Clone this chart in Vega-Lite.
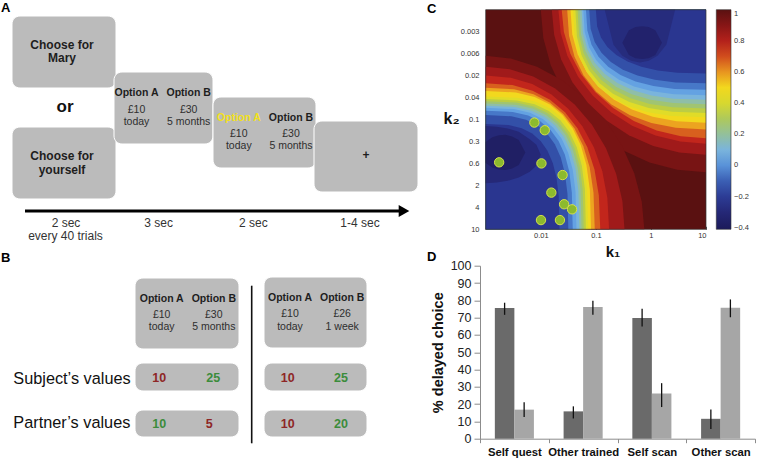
{
"$schema": "https://vega.github.io/schema/vega-lite/v6.json",
"background": "white",
"padding": 0,
"bounds": "flush",
"spacing": 40,
"datasets": {
"boxes": [
{"x":1.2,"x2":11.6,"y":1.6,"y2":8.8},{"x":1.2,"x2":11.6,"y":12.7,"y2":19.9},
{"x":11.4,"x2":21.3,"y":7.2,"y2":14.4},{"x":21.3,"x2":31.6,"y":9.7,"y2":16.8},
{"x":31.4,"x2":41.8,"y":12.1,"y2":19.2},
{"x":13.5,"x2":23.9,"y":27.8,"y2":34.9},{"x":26.4,"x2":36.7,"y":27.7,"y2":34.8},
{"x":13.5,"x2":23.9,"y":36.3,"y2":39.1},{"x":26.4,"x2":36.7,"y":36.3,"y2":39.1},
{"x":13.5,"x2":23.9,"y":41.0,"y2":43.7},{"x":26.4,"x2":36.7,"y":41.0,"y2":43.7}
],
"rules": [
{"kind":"timeline","x":2.5,"x2":40.4,"y":21.1,"y2":21.1},
{"kind":"divider","x":25.17,"x2":25.17,"y":28.57,"y2":44.33}
],
"labels": [
{"role":"letter","text":"A","x":0.1,"y":1.2},
{"role":"letter","text":"B","x":0.1,"y":26.2},
{"role":"letter","text":"C","x":42.7,"y":1.27},
{"role":"letter","text":"D","x":42.7,"y":26.07},
{"role":"head","text":"Choose for","x":6.2,"y":4.87},
{"role":"head","text":"Mary","x":6.2,"y":6.23},
{"role":"head","text":"Choose for","x":6.2,"y":16.0},
{"role":"head","text":"yourself","x":6.2,"y":17.4},
{"role":"or","text":"or","x":6.5,"y":11.15},
{"role":"opt","tone":"plain","text":"Option A","x":13.65,"y":9.57},
{"role":"opt","tone":"plain","text":"Option B","x":18.87,"y":9.57},
{"role":"val","text":"£10","x":13.65,"y":11.3},
{"role":"val","text":"today","x":13.65,"y":12.47},
{"role":"val","text":"£30","x":18.87,"y":11.3},
{"role":"val","text":"5 months","x":18.87,"y":12.47},
{"role":"opt","tone":"chosen","text":"Option A","x":23.88,"y":12.05},
{"role":"opt","tone":"plain","text":"Option B","x":29.1,"y":12.05},
{"role":"val","text":"£10","x":23.88,"y":13.7},
{"role":"val","text":"today","x":23.88,"y":14.93},
{"role":"val","text":"£30","x":29.1,"y":13.7},
{"role":"val","text":"5 months","x":29.1,"y":14.93},
{"role":"plus","text":"+","x":36.6,"y":15.9},
{"role":"time","text":"2 sec","x":6.6,"y":22.73},
{"role":"time","text":"3 sec","x":15.87,"y":22.73},
{"role":"time","text":"2 sec","x":25.33,"y":22.73},
{"role":"time","text":"1-4 sec","x":36.0,"y":22.73},
{"role":"time","text":"every 40 trials","x":6.55,"y":24.03},
{"role":"opt","tone":"plain","text":"Option A","x":16.17,"y":30.17},
{"role":"opt","tone":"plain","text":"Option B","x":21.38,"y":30.17},
{"role":"val","text":"£10","x":16.17,"y":31.8},
{"role":"val","text":"today","x":16.17,"y":33.0},
{"role":"val","text":"£30","x":21.38,"y":31.8},
{"role":"val","text":"5 months","x":21.38,"y":33.0},
{"role":"opt","tone":"plain","text":"Option A","x":29.0,"y":30.1},
{"role":"opt","tone":"plain","text":"Option B","x":34.22,"y":30.1},
{"role":"val","text":"£10","x":29.0,"y":31.73},
{"role":"val","text":"today","x":29.0,"y":32.97},
{"role":"val","text":"£26","x":34.22,"y":31.73},
{"role":"val","text":"1 week","x":34.22,"y":32.97},
{"role":"row","text":"Subject’s values","x":1.33,"y":38.4},
{"role":"row","text":"Partner’s values","x":1.33,"y":42.77},
{"role":"num","tone":"worse","text":"10","x":15.93,"y":38.17},
{"role":"num","tone":"better","text":"25","x":21.33,"y":38.17},
{"role":"num","tone":"worse","text":"10","x":28.77,"y":38.17},
{"role":"num","tone":"better","text":"25","x":34.1,"y":38.17},
{"role":"num","tone":"better","text":"10","x":15.93,"y":42.83},
{"role":"num","tone":"worse","text":"5","x":20.93,"y":42.83},
{"role":"num","tone":"worse","text":"10","x":28.77,"y":42.83},
{"role":"num","tone":"better","text":"20","x":34.1,"y":42.83}
],
"contours": [
{"g":"a01","lev":0.93,"lk1":-2,"y0":0,"y1":0},{"g":"a01","lev":0.93,"lk1":-1.954,"y0":0,"y1":1.285},{"g":"a01","lev":0.93,"lk1":-1.819,"y0":0,"y1":2.531},{"g":"a01","lev":0.93,"lk1":-1.598,"y0":0,"y1":3.7},{"g":"a01","lev":0.93,"lk1":-1.298,"y0":0,"y1":4.757},{"g":"a01","lev":0.93,"lk1":-0.928,"y0":0,"y1":5.668},{"g":"a01","lev":0.93,"lk1":-0.5,"y0":0,"y1":6.408},{"g":"a01","lev":0.93,"lk1":-0.026,"y0":0,"y1":6.954},{"g":"a01","lev":0.93,"lk1":0.479,"y0":0,"y1":7.288},{"g":"a01","lev":0.93,"lk1":1,"y0":0,"y1":7.4},
{"g":"a02","lev":0.93,"lk1":-3,"y0":2.1,"y1":10},{"g":"a02","lev":0.93,"lk1":-2.544,"y0":2.226,"y1":10},{"g":"a02","lev":0.93,"lk1":-2.069,"y0":2.601,"y1":10},{"g":"a02","lev":0.93,"lk1":-1.612,"y0":3.21,"y1":10},{"g":"a02","lev":0.93,"lk1":-1.191,"y0":4.033,"y1":10},{"g":"a02","lev":0.93,"lk1":-0.825,"y0":5.038,"y1":10},{"g":"a02","lev":0.93,"lk1":-0.525,"y0":6.191,"y1":10},{"g":"a02","lev":0.93,"lk1":-0.303,"y0":7.446,"y1":10},{"g":"a02","lev":0.93,"lk1":-0.166,"y0":8.749,"y1":10},{"g":"a02","lev":0.93,"lk1":-0.12,"y0":10,"y1":10},
{"g":"a03","lev":0.85,"lk1":-1.8,"y0":0,"y1":0},{"g":"a03","lev":0.85,"lk1":-1.757,"y0":0,"y1":1.146},{"g":"a03","lev":0.85,"lk1":-1.631,"y0":0,"y1":2.257},{"g":"a03","lev":0.85,"lk1":-1.425,"y0":0,"y1":3.3},{"g":"a03","lev":0.85,"lk1":-1.145,"y0":0,"y1":4.242},{"g":"a03","lev":0.85,"lk1":-0.8,"y0":0,"y1":5.056},{"g":"a03","lev":0.85,"lk1":-0.4,"y0":0,"y1":5.716},{"g":"a03","lev":0.85,"lk1":0.042,"y0":0,"y1":6.202},{"g":"a03","lev":0.85,"lk1":0.514,"y0":0,"y1":6.5},{"g":"a03","lev":0.85,"lk1":1,"y0":0,"y1":6.6},
{"g":"a04","lev":0.85,"lk1":-3,"y0":2.6,"y1":10},{"g":"a04","lev":0.85,"lk1":-2.563,"y0":2.712,"y1":10},{"g":"a04","lev":0.85,"lk1":-2.138,"y0":3.046,"y1":10},{"g":"a04","lev":0.85,"lk1":-1.74,"y0":3.592,"y1":10},{"g":"a04","lev":0.85,"lk1":-1.38,"y0":4.332,"y1":10},{"g":"a04","lev":0.85,"lk1":-1.07,"y0":5.243,"y1":10},{"g":"a04","lev":0.85,"lk1":-0.818,"y0":6.3,"y1":10},{"g":"a04","lev":0.85,"lk1":-0.632,"y0":7.469,"y1":10},{"g":"a04","lev":0.85,"lk1":-0.518,"y0":8.715,"y1":10},{"g":"a04","lev":0.85,"lk1":-0.48,"y0":10,"y1":10},
{"g":"a05","lev":0.76,"lk1":-1.68,"y0":0,"y1":0},{"g":"a05","lev":0.76,"lk1":-1.639,"y0":0,"y1":1.059},{"g":"a05","lev":0.76,"lk1":-1.518,"y0":0,"y1":2.086},{"g":"a05","lev":0.76,"lk1":-1.321,"y0":0,"y1":3.05},{"g":"a05","lev":0.76,"lk1":-1.053,"y0":0,"y1":3.921},{"g":"a05","lev":0.76,"lk1":-0.723,"y0":0,"y1":4.673},{"g":"a05","lev":0.76,"lk1":-0.34,"y0":0,"y1":5.283},{"g":"a05","lev":0.76,"lk1":0.083,"y0":0,"y1":5.732},{"g":"a05","lev":0.76,"lk1":0.535,"y0":0,"y1":6.007},{"g":"a05","lev":0.76,"lk1":1,"y0":0,"y1":6.1},
{"g":"a06","lev":0.76,"lk1":-3,"y0":3.0,"y1":10},{"g":"a06","lev":0.76,"lk1":-2.544,"y0":3.097,"y1":10},{"g":"a06","lev":0.76,"lk1":-2.155,"y0":3.385,"y1":10},{"g":"a06","lev":0.76,"lk1":-1.807,"y0":3.857,"y1":10},{"g":"a06","lev":0.76,"lk1":-1.501,"y0":4.506,"y1":10},{"g":"a06","lev":0.76,"lk1":-1.242,"y0":5.316,"y1":10},{"g":"a06","lev":0.76,"lk1":-1.034,"y0":6.272,"y1":10},{"g":"a06","lev":0.76,"lk1":-0.883,"y0":7.36,"y1":10},{"g":"a06","lev":0.76,"lk1":-0.791,"y0":8.575,"y1":10},{"g":"a06","lev":0.76,"lk1":-0.76,"y0":10,"y1":10},
{"g":"a07","lev":0.67,"lk1":-1.62,"y0":0,"y1":0},{"g":"a07","lev":0.67,"lk1":-1.58,"y0":0,"y1":1.016},{"g":"a07","lev":0.67,"lk1":-1.462,"y0":0,"y1":2.001},{"g":"a07","lev":0.67,"lk1":-1.269,"y0":0,"y1":2.925},{"g":"a07","lev":0.67,"lk1":-1.007,"y0":0,"y1":3.76},{"g":"a07","lev":0.67,"lk1":-0.684,"y0":0,"y1":4.481},{"g":"a07","lev":0.67,"lk1":-0.31,"y0":0,"y1":5.066},{"g":"a07","lev":0.67,"lk1":0.104,"y0":0,"y1":5.497},{"g":"a07","lev":0.67,"lk1":0.545,"y0":0,"y1":5.761},{"g":"a07","lev":0.67,"lk1":1,"y0":0,"y1":5.85},
{"g":"a08","lev":0.67,"lk1":-3,"y0":3.35,"y1":10},{"g":"a08","lev":0.67,"lk1":-2.516,"y0":3.434,"y1":10},{"g":"a08","lev":0.67,"lk1":-2.149,"y0":3.686,"y1":10},{"g":"a08","lev":0.67,"lk1":-1.832,"y0":4.101,"y1":10},{"g":"a08","lev":0.67,"lk1":-1.561,"y0":4.675,"y1":10},{"g":"a08","lev":0.67,"lk1":-1.334,"y0":5.398,"y1":10},{"g":"a08","lev":0.67,"lk1":-1.155,"y0":6.267,"y1":10},{"g":"a08","lev":0.67,"lk1":-1.025,"y0":7.279,"y1":10},{"g":"a08","lev":0.67,"lk1":-0.946,"y0":8.454,"y1":10},{"g":"a08","lev":0.67,"lk1":-0.92,"y0":10,"y1":10},
{"g":"a09","lev":0.58,"lk1":-1.52,"y0":0,"y1":0},{"g":"a09","lev":0.58,"lk1":-1.487,"y0":0,"y1":1.188},{"g":"a09","lev":0.58,"lk1":-1.387,"y0":0,"y1":2.143},{"g":"a09","lev":0.58,"lk1":-1.224,"y0":0,"y1":2.982},{"g":"a09","lev":0.58,"lk1":-0.998,"y0":0,"y1":3.71},{"g":"a09","lev":0.58,"lk1":-0.716,"y0":0,"y1":4.322},{"g":"a09","lev":0.58,"lk1":-0.379,"y0":0,"y1":4.809},{"g":"a09","lev":0.58,"lk1":0.009,"y0":0,"y1":5.163},{"g":"a09","lev":0.58,"lk1":0.451,"y0":0,"y1":5.378},{"g":"a09","lev":0.58,"lk1":1,"y0":0,"y1":5.45},
{"g":"a10","lev":0.58,"lk1":-3,"y0":3.55,"y1":10},{"g":"a10","lev":0.58,"lk1":-2.485,"y0":3.625,"y1":10},{"g":"a10","lev":0.58,"lk1":-2.132,"y0":3.851,"y1":10},{"g":"a10","lev":0.58,"lk1":-1.838,"y0":4.225,"y1":10},{"g":"a10","lev":0.58,"lk1":-1.59,"y0":4.746,"y1":10},{"g":"a10","lev":0.58,"lk1":-1.387,"y0":5.408,"y1":10},{"g":"a10","lev":0.58,"lk1":-1.227,"y0":6.215,"y1":10},{"g":"a10","lev":0.58,"lk1":-1.112,"y0":7.174,"y1":10},{"g":"a10","lev":0.58,"lk1":-1.043,"y0":8.322,"y1":10},{"g":"a10","lev":0.58,"lk1":-1.02,"y0":10,"y1":10},
{"g":"a11","lev":0.5,"lk1":-1.46,"y0":0,"y1":0},{"g":"a11","lev":0.5,"lk1":-1.428,"y0":0,"y1":1.123},{"g":"a11","lev":0.5,"lk1":-1.33,"y0":0,"y1":2.025},{"g":"a11","lev":0.5,"lk1":-1.171,"y0":0,"y1":2.818},{"g":"a11","lev":0.5,"lk1":-0.951,"y0":0,"y1":3.506},{"g":"a11","lev":0.5,"lk1":-0.675,"y0":0,"y1":4.084},{"g":"a11","lev":0.5,"lk1":-0.346,"y0":0,"y1":4.544},{"g":"a11","lev":0.5,"lk1":0.033,"y0":0,"y1":4.879},{"g":"a11","lev":0.5,"lk1":0.464,"y0":0,"y1":5.082},{"g":"a11","lev":0.5,"lk1":1,"y0":0,"y1":5.15},
{"g":"a12","lev":0.5,"lk1":-3,"y0":3.7,"y1":10},{"g":"a12","lev":0.5,"lk1":-2.452,"y0":3.769,"y1":10},{"g":"a12","lev":0.5,"lk1":-2.111,"y0":3.973,"y1":10},{"g":"a12","lev":0.5,"lk1":-1.834,"y0":4.315,"y1":10},{"g":"a12","lev":0.5,"lk1":-1.605,"y0":4.792,"y1":10},{"g":"a12","lev":0.5,"lk1":-1.419,"y0":5.405,"y1":10},{"g":"a12","lev":0.5,"lk1":-1.275,"y0":6.16,"y1":10},{"g":"a12","lev":0.5,"lk1":-1.171,"y0":7.072,"y1":10},{"g":"a12","lev":0.5,"lk1":-1.109,"y0":8.196,"y1":10},{"g":"a12","lev":0.5,"lk1":-1.088,"y0":10,"y1":10},
{"g":"a13","lev":0.42,"lk1":-1.412,"y0":0,"y1":0},{"g":"a13","lev":0.42,"lk1":-1.384,"y0":0,"y1":1.274},{"g":"a13","lev":0.42,"lk1":-1.299,"y0":0,"y1":2.147},{"g":"a13","lev":0.42,"lk1":-1.159,"y0":0,"y1":2.875},{"g":"a13","lev":0.42,"lk1":-0.965,"y0":0,"y1":3.488},{"g":"a13","lev":0.42,"lk1":-0.717,"y0":0,"y1":3.992},{"g":"a13","lev":0.42,"lk1":-0.415,"y0":0,"y1":4.387},{"g":"a13","lev":0.42,"lk1":-0.057,"y0":0,"y1":4.671},{"g":"a13","lev":0.42,"lk1":0.373,"y0":0,"y1":4.843},{"g":"a13","lev":0.42,"lk1":1,"y0":0,"y1":4.9},
{"g":"a14","lev":0.42,"lk1":-3,"y0":3.95,"y1":10},{"g":"a14","lev":0.42,"lk1":-2.422,"y0":4.012,"y1":10},{"g":"a14","lev":0.42,"lk1":-2.091,"y0":4.196,"y1":10},{"g":"a14","lev":0.42,"lk1":-1.829,"y0":4.503,"y1":10},{"g":"a14","lev":0.42,"lk1":-1.615,"y0":4.936,"y1":10},{"g":"a14","lev":0.42,"lk1":-1.443,"y0":5.495,"y1":10},{"g":"a14","lev":0.42,"lk1":-1.31,"y0":6.19,"y1":10},{"g":"a14","lev":0.42,"lk1":-1.216,"y0":7.042,"y1":10},{"g":"a14","lev":0.42,"lk1":-1.159,"y0":8.118,"y1":10},{"g":"a14","lev":0.42,"lk1":-1.14,"y0":10,"y1":10},
{"g":"a15","lev":0.34,"lk1":-1.372,"y0":0,"y1":0},{"g":"a15","lev":0.34,"lk1":-1.344,"y0":0,"y1":1.222},{"g":"a15","lev":0.34,"lk1":-1.261,"y0":0,"y1":2.06},{"g":"a15","lev":0.34,"lk1":-1.124,"y0":0,"y1":2.758},{"g":"a15","lev":0.34,"lk1":-0.932,"y0":0,"y1":3.346},{"g":"a15","lev":0.34,"lk1":-0.689,"y0":0,"y1":3.829},{"g":"a15","lev":0.34,"lk1":-0.392,"y0":0,"y1":4.208},{"g":"a15","lev":0.34,"lk1":-0.039,"y0":0,"y1":4.481},{"g":"a15","lev":0.34,"lk1":0.383,"y0":0,"y1":4.645},{"g":"a15","lev":0.34,"lk1":1,"y0":0,"y1":4.7},
{"g":"a16","lev":0.34,"lk1":-3,"y0":4.07,"y1":10},{"g":"a16","lev":0.34,"lk1":-2.434,"y0":4.13,"y1":10},{"g":"a16","lev":0.34,"lk1":-2.11,"y0":4.311,"y1":10},{"g":"a16","lev":0.34,"lk1":-1.854,"y0":4.612,"y1":10},{"g":"a16","lev":0.34,"lk1":-1.645,"y0":5.036,"y1":10},{"g":"a16","lev":0.34,"lk1":-1.476,"y0":5.584,"y1":10},{"g":"a16","lev":0.34,"lk1":-1.346,"y0":6.265,"y1":10},{"g":"a16","lev":0.34,"lk1":-1.254,"y0":7.101,"y1":10},{"g":"a16","lev":0.34,"lk1":-1.199,"y0":8.156,"y1":10},{"g":"a16","lev":0.34,"lk1":-1.18,"y0":10,"y1":10},
{"g":"a17","lev":0.26,"lk1":-1.332,"y0":0,"y1":0},{"g":"a17","lev":0.26,"lk1":-1.305,"y0":0,"y1":1.17},{"g":"a17","lev":0.26,"lk1":-1.223,"y0":0,"y1":1.972},{"g":"a17","lev":0.26,"lk1":-1.088,"y0":0,"y1":2.641},{"g":"a17","lev":0.26,"lk1":-0.9,"y0":0,"y1":3.204},{"g":"a17","lev":0.26,"lk1":-0.66,"y0":0,"y1":3.666},{"g":"a17","lev":0.26,"lk1":-0.368,"y0":0,"y1":4.029},{"g":"a17","lev":0.26,"lk1":-0.022,"y0":0,"y1":4.29},{"g":"a17","lev":0.26,"lk1":0.393,"y0":0,"y1":4.447},{"g":"a17","lev":0.26,"lk1":1,"y0":0,"y1":4.5},
{"g":"a18","lev":0.26,"lk1":-3,"y0":4.17,"y1":10},{"g":"a18","lev":0.26,"lk1":-2.446,"y0":4.229,"y1":10},{"g":"a18","lev":0.26,"lk1":-2.13,"y0":4.407,"y1":10},{"g":"a18","lev":0.26,"lk1":-1.879,"y0":4.703,"y1":10},{"g":"a18","lev":0.26,"lk1":-1.674,"y0":5.12,"y1":10},{"g":"a18","lev":0.26,"lk1":-1.51,"y0":5.658,"y1":10},{"g":"a18","lev":0.26,"lk1":-1.383,"y0":6.328,"y1":10},{"g":"a18","lev":0.26,"lk1":-1.292,"y0":7.15,"y1":10},{"g":"a18","lev":0.26,"lk1":-1.238,"y0":8.187,"y1":10},{"g":"a18","lev":0.26,"lk1":-1.22,"y0":10,"y1":10},
{"g":"a19","lev":0.18,"lk1":-1.296,"y0":0,"y1":0},{"g":"a19","lev":0.18,"lk1":-1.269,"y0":0,"y1":1.118},{"g":"a19","lev":0.18,"lk1":-1.189,"y0":0,"y1":1.884},{"g":"a19","lev":0.18,"lk1":-1.056,"y0":0,"y1":2.523},{"g":"a19","lev":0.18,"lk1":-0.87,"y0":0,"y1":3.061},{"g":"a19","lev":0.18,"lk1":-0.635,"y0":0,"y1":3.503},{"g":"a19","lev":0.18,"lk1":-0.347,"y0":0,"y1":3.85},{"g":"a19","lev":0.18,"lk1":-0.006,"y0":0,"y1":4.099},{"g":"a19","lev":0.18,"lk1":0.403,"y0":0,"y1":4.25},{"g":"a19","lev":0.18,"lk1":1,"y0":0,"y1":4.3},
{"g":"a20","lev":0.18,"lk1":-3,"y0":4.27,"y1":10},{"g":"a20","lev":0.18,"lk1":-2.459,"y0":4.328,"y1":10},{"g":"a20","lev":0.18,"lk1":-2.149,"y0":4.503,"y1":10},{"g":"a20","lev":0.18,"lk1":-1.904,"y0":4.794,"y1":10},{"g":"a20","lev":0.18,"lk1":-1.704,"y0":5.203,"y1":10},{"g":"a20","lev":0.18,"lk1":-1.543,"y0":5.733,"y1":10},{"g":"a20","lev":0.18,"lk1":-1.419,"y0":6.391,"y1":10},{"g":"a20","lev":0.18,"lk1":-1.331,"y0":7.199,"y1":10},{"g":"a20","lev":0.18,"lk1":-1.278,"y0":8.218,"y1":10},{"g":"a20","lev":0.18,"lk1":-1.26,"y0":10,"y1":10},
{"g":"a21","lev":0.1,"lk1":-1.26,"y0":0,"y1":0},{"g":"a21","lev":0.1,"lk1":-1.234,"y0":0,"y1":1.066},{"g":"a21","lev":0.1,"lk1":-1.154,"y0":0,"y1":1.797},{"g":"a21","lev":0.1,"lk1":-1.023,"y0":0,"y1":2.406},{"g":"a21","lev":0.1,"lk1":-0.841,"y0":0,"y1":2.919},{"g":"a21","lev":0.1,"lk1":-0.609,"y0":0,"y1":3.34},{"g":"a21","lev":0.1,"lk1":-0.326,"y0":0,"y1":3.671},{"g":"a21","lev":0.1,"lk1":0.01,"y0":0,"y1":3.909},{"g":"a21","lev":0.1,"lk1":0.412,"y0":0,"y1":4.052},{"g":"a21","lev":0.1,"lk1":1,"y0":0,"y1":4.1},
{"g":"a22","lev":0.1,"lk1":-3,"y0":4.37,"y1":10},{"g":"a22","lev":0.1,"lk1":-2.471,"y0":4.427,"y1":10},{"g":"a22","lev":0.1,"lk1":-2.169,"y0":4.599,"y1":10},{"g":"a22","lev":0.1,"lk1":-1.929,"y0":4.885,"y1":10},{"g":"a22","lev":0.1,"lk1":-1.734,"y0":5.287,"y1":10},{"g":"a22","lev":0.1,"lk1":-1.577,"y0":5.807,"y1":10},{"g":"a22","lev":0.1,"lk1":-1.455,"y0":6.454,"y1":10},{"g":"a22","lev":0.1,"lk1":-1.369,"y0":7.247,"y1":10},{"g":"a22","lev":0.1,"lk1":-1.317,"y0":8.249,"y1":10},{"g":"a22","lev":0.1,"lk1":-1.3,"y0":10,"y1":10},
{"g":"a23","lev":0.03,"lk1":-1.228,"y0":0,"y1":0},{"g":"a23","lev":0.03,"lk1":-1.202,"y0":0,"y1":1.014},{"g":"a23","lev":0.03,"lk1":-1.124,"y0":0,"y1":1.709},{"g":"a23","lev":0.03,"lk1":-0.995,"y0":0,"y1":2.289},{"g":"a23","lev":0.03,"lk1":-0.815,"y0":0,"y1":2.776},{"g":"a23","lev":0.03,"lk1":-0.586,"y0":0,"y1":3.177},{"g":"a23","lev":0.03,"lk1":-0.307,"y0":0,"y1":3.492},{"g":"a23","lev":0.03,"lk1":0.024,"y0":0,"y1":3.718},{"g":"a23","lev":0.03,"lk1":0.42,"y0":0,"y1":3.854},{"g":"a23","lev":0.03,"lk1":1,"y0":0,"y1":3.9},
{"g":"a24","lev":0.03,"lk1":-3,"y0":4.47,"y1":10},{"g":"a24","lev":0.03,"lk1":-2.487,"y0":4.526,"y1":10},{"g":"a24","lev":0.03,"lk1":-2.194,"y0":4.695,"y1":10},{"g":"a24","lev":0.03,"lk1":-1.962,"y0":4.975,"y1":10},{"g":"a24","lev":0.03,"lk1":-1.773,"y0":5.371,"y1":10},{"g":"a24","lev":0.03,"lk1":-1.62,"y0":5.882,"y1":10},{"g":"a24","lev":0.03,"lk1":-1.503,"y0":6.517,"y1":10},{"g":"a24","lev":0.03,"lk1":-1.419,"y0":7.296,"y1":10},{"g":"a24","lev":0.03,"lk1":-1.369,"y0":8.28,"y1":10},{"g":"a24","lev":0.03,"lk1":-1.352,"y0":10,"y1":10},
{"g":"a25","lev":-0.05,"lk1":-1.18,"y0":0,"y1":0},{"g":"a25","lev":-0.05,"lk1":-1.154,"y0":0,"y1":0.949},{"g":"a25","lev":-0.05,"lk1":-1.078,"y0":0,"y1":1.599},{"g":"a25","lev":-0.05,"lk1":-0.952,"y0":0,"y1":2.142},{"g":"a25","lev":-0.05,"lk1":-0.776,"y0":0,"y1":2.598},{"g":"a25","lev":-0.05,"lk1":-0.552,"y0":0,"y1":2.973},{"g":"a25","lev":-0.05,"lk1":-0.279,"y0":0,"y1":3.268},{"g":"a25","lev":-0.05,"lk1":0.045,"y0":0,"y1":3.479},{"g":"a25","lev":-0.05,"lk1":0.433,"y0":0,"y1":3.607},{"g":"a25","lev":-0.05,"lk1":1,"y0":0,"y1":3.65},
{"g":"a26","lev":-0.05,"lk1":-3,"y0":4.6,"y1":10},{"g":"a26","lev":-0.05,"lk1":-2.509,"y0":4.655,"y1":10},{"g":"a26","lev":-0.05,"lk1":-2.228,"y0":4.819,"y1":10},{"g":"a26","lev":-0.05,"lk1":-2.005,"y0":5.094,"y1":10},{"g":"a26","lev":-0.05,"lk1":-1.823,"y0":5.48,"y1":10},{"g":"a26","lev":-0.05,"lk1":-1.677,"y0":5.979,"y1":10},{"g":"a26","lev":-0.05,"lk1":-1.564,"y0":6.599,"y1":10},{"g":"a26","lev":-0.05,"lk1":-1.484,"y0":7.36,"y1":10},{"g":"a26","lev":-0.05,"lk1":-1.436,"y0":8.321,"y1":10},{"g":"a26","lev":-0.05,"lk1":-1.42,"y0":10,"y1":10},
{"g":"a27","lev":-0.13,"lk1":-1.12,"y0":0,"y1":0},{"g":"a27","lev":-0.13,"lk1":-1.095,"y0":0,"y1":0.871},{"g":"a27","lev":-0.13,"lk1":-1.021,"y0":0,"y1":1.468},{"g":"a27","lev":-0.13,"lk1":-0.898,"y0":0,"y1":1.966},{"g":"a27","lev":-0.13,"lk1":-0.727,"y0":0,"y1":2.385},{"g":"a27","lev":-0.13,"lk1":-0.509,"y0":0,"y1":2.729},{"g":"a27","lev":-0.13,"lk1":-0.244,"y0":0,"y1":2.999},{"g":"a27","lev":-0.13,"lk1":0.071,"y0":0,"y1":3.194},{"g":"a27","lev":-0.13,"lk1":0.449,"y0":0,"y1":3.311},{"g":"a27","lev":-0.13,"lk1":1,"y0":0,"y1":3.35},
{"g":"a28","lev":-0.13,"lk1":-3,"y0":4.8,"y1":10},{"g":"a28","lev":-0.13,"lk1":-2.533,"y0":4.853,"y1":10},{"g":"a28","lev":-0.13,"lk1":-2.267,"y0":5.011,"y1":10},{"g":"a28","lev":-0.13,"lk1":-2.055,"y0":5.275,"y1":10},{"g":"a28","lev":-0.13,"lk1":-1.883,"y0":5.647,"y1":10},{"g":"a28","lev":-0.13,"lk1":-1.744,"y0":6.128,"y1":10},{"g":"a28","lev":-0.13,"lk1":-1.637,"y0":6.725,"y1":10},{"g":"a28","lev":-0.13,"lk1":-1.561,"y0":7.458,"y1":10},{"g":"a28","lev":-0.13,"lk1":-1.515,"y0":8.383,"y1":10},{"g":"a28","lev":-0.13,"lk1":-1.5,"y0":10,"y1":10},
{"g":"a29","lev":-0.22,"lk1":-1,"y0":0,"y1":0},{"g":"a29","lev":-0.22,"lk1":-0.977,"y0":0,"y1":0.754},{"g":"a29","lev":-0.22,"lk1":-0.907,"y0":0,"y1":1.271},{"g":"a29","lev":-0.22,"lk1":-0.791,"y0":0,"y1":1.702},{"g":"a29","lev":-0.22,"lk1":-0.629,"y0":0,"y1":2.065},{"g":"a29","lev":-0.22,"lk1":-0.424,"y0":0,"y1":2.362},{"g":"a29","lev":-0.22,"lk1":-0.174,"y0":0,"y1":2.596},{"g":"a29","lev":-0.22,"lk1":0.124,"y0":0,"y1":2.765},{"g":"a29","lev":-0.22,"lk1":0.48,"y0":0,"y1":2.866},{"g":"a29","lev":-0.22,"lk1":1,"y0":0,"y1":2.9},
{"g":"a30","lev":-0.22,"lk1":-3,"y0":5.2,"y1":10},{"g":"a30","lev":-0.22,"lk1":-2.583,"y0":5.249,"y1":10},{"g":"a30","lev":-0.22,"lk1":-2.345,"y0":5.395,"y1":10},{"g":"a30","lev":-0.22,"lk1":-2.156,"y0":5.639,"y1":10},{"g":"a30","lev":-0.22,"lk1":-2.002,"y0":5.982,"y1":10},{"g":"a30","lev":-0.22,"lk1":-1.878,"y0":6.425,"y1":10},{"g":"a30","lev":-0.22,"lk1":-1.782,"y0":6.977,"y1":10},{"g":"a30","lev":-0.22,"lk1":-1.714,"y0":7.653,"y1":10},{"g":"a30","lev":-0.22,"lk1":-1.674,"y0":8.507,"y1":10},{"g":"a30","lev":-0.22,"lk1":-1.66,"y0":10,"y1":10},
{"g":"a31","lev":-0.28,"lk1":-0.84,"y0":0,"y1":0},{"g":"a31","lev":-0.28,"lk1":-0.68,"y0":0,"y1":1.6},{"g":"a31","lev":-0.28,"lk1":-0.52,"y0":0,"y1":2.1},{"g":"a31","lev":-0.28,"lk1":-0.36,"y0":0,"y1":2.33},{"g":"a31","lev":-0.28,"lk1":-0.2,"y0":0,"y1":2.4},{"g":"a31","lev":-0.28,"lk1":-0.04,"y0":0,"y1":2.33},{"g":"a31","lev":-0.28,"lk1":0.12,"y0":0,"y1":2.1},{"g":"a31","lev":-0.28,"lk1":0.28,"y0":0,"y1":1.6},{"g":"a31","lev":-0.28,"lk1":0.44,"y0":0,"y1":0},
{"g":"a32","lev":-0.3,"lk1":-3,"y0":5.3,"y1":7.9},{"g":"a32","lev":-0.3,"lk1":-2.8,"y0":5.33,"y1":7.87},{"g":"a32","lev":-0.3,"lk1":-2.6,"y0":5.41,"y1":7.79},{"g":"a32","lev":-0.3,"lk1":-2.4,"y0":5.56,"y1":7.64},{"g":"a32","lev":-0.3,"lk1":-2.2,"y0":5.9,"y1":7.38},{"g":"a32","lev":-0.3,"lk1":-2.08,"y0":6.15,"y1":7.11},{"g":"a32","lev":-0.3,"lk1":-2.0,"y0":6.6,"y1":6.6},
{"g":"a33","lev":-0.34,"lk1":-0.52,"y0":1.5,"y1":1.5},{"g":"a33","lev":-0.34,"lk1":-0.4,"y0":0.94,"y1":2.06},{"g":"a33","lev":-0.34,"lk1":-0.28,"y0":0.79,"y1":2.21},{"g":"a33","lev":-0.34,"lk1":-0.16,"y0":0.75,"y1":2.25},{"g":"a33","lev":-0.34,"lk1":-0.04,"y0":0.79,"y1":2.21},{"g":"a33","lev":-0.34,"lk1":0.08,"y0":0.94,"y1":2.06},{"g":"a33","lev":-0.34,"lk1":0.2,"y0":1.5,"y1":1.5},
{"g":"a34","lev":-0.37,"lk1":-3,"y0":6.02,"y1":6.98},{"g":"a34","lev":-0.37,"lk1":-2.88,"y0":5.81,"y1":7.19},{"g":"a34","lev":-0.37,"lk1":-2.76,"y0":5.72,"y1":7.28},{"g":"a34","lev":-0.37,"lk1":-2.64,"y0":5.7,"y1":7.3},{"g":"a34","lev":-0.37,"lk1":-2.52,"y0":5.77,"y1":7.23},{"g":"a34","lev":-0.37,"lk1":-2.4,"y0":5.93,"y1":7.07},{"g":"a34","lev":-0.37,"lk1":-2.28,"y0":6.5,"y1":6.5}
],
"subjects": [
{"lk1":-2.116,"k2i":5.14},{"lk1":-1.928,"k2i":5.49},{"lk1":-2.756,"k2i":6.95},{"lk1":-1.988,"k2i":7.0},{"lk1":-1.604,"k2i":7.53},
{"lk1":-1.808,"k2i":8.33},{"lk1":-1.576,"k2i":8.86},{"lk1":-1.432,"k2i":9.09},{"lk1":-1.996,"k2i":9.58},{"lk1":-1.652,"k2i":9.58}
],
"bars": [
{"cond":"Self quest","set":"Condition 1","pct":75.6,"lo":71.6,"hi":78.6},
{"cond":"Self quest","set":"Condition 2","pct":16.8,"lo":12.5,"hi":21.0},
{"cond":"Other trained","set":"Condition 1","pct":15.8,"lo":11.7,"hi":18.7},
{"cond":"Other trained","set":"Condition 2","pct":76.1,"lo":71.6,"hi":79.8},
{"cond":"Self scan","set":"Condition 1","pct":69.8,"lo":64.8,"hi":75.1},
{"cond":"Self scan","set":"Condition 2","pct":26.1,"lo":18.3,"hi":32.1},
{"cond":"Other scan","set":"Condition 1","pct":11.5,"lo":5.6,"hi":16.9},
{"cond":"Other scan","set":"Condition 2","pct":75.7,"lo":70.2,"hi":80.5}
]
},
"hconcat": [
{
"width": 440, "height": 461,
"layer": [
{"data": {"name": "boxes"}, "mark": {"type": "rect", "cornerRadius": 8, "fill": "#bbbbbb", "stroke": "white", "strokeWidth": 1},
 "encoding": {"x": {"field": "x", "type": "quantitative", "scale": {"domain": [0, 44]}, "axis": null}, "x2": {"field": "x2"},
  "y": {"field": "y", "type": "quantitative", "scale": {"domain": [0, 46.1], "reverse": true}, "axis": null}, "y2": {"field": "y2"}}},
{"data": {"name": "rules"}, "transform": [{"filter": "datum.kind == 'timeline'"}], "mark": {"type": "rule", "color": "black", "strokeWidth": 3},
 "encoding": {"x": {"field": "x", "type": "quantitative", "scale": {"domain": [0, 44]}, "axis": null}, "x2": {"field": "x2"},
  "y": {"field": "y", "type": "quantitative", "scale": {"domain": [0, 46.1], "reverse": true}, "axis": null}, "y2": {"field": "y2"}}},
{"data": {"name": "rules"}, "transform": [{"filter": "datum.kind == 'divider'"}], "mark": {"type": "rule", "color": "#111", "strokeWidth": 1.6},
 "encoding": {"x": {"field": "x", "type": "quantitative", "scale": {"domain": [0, 44]}, "axis": null}, "x2": {"field": "x2"},
  "y": {"field": "y", "type": "quantitative", "scale": {"domain": [0, 46.1], "reverse": true}, "axis": null}, "y2": {"field": "y2"}}},
{"data": {"name": "rules"}, "transform": [{"filter": "datum.kind == 'timeline'"}], "mark": {"type": "point", "shape": "triangle-right", "filled": true, "color": "black", "size": 150, "opacity": 1},
 "encoding": {"x": {"field": "x2", "type": "quantitative", "scale": {"domain": [0, 44]}, "axis": null},
  "y": {"field": "y", "type": "quantitative", "scale": {"domain": [0, 46.1], "reverse": true}, "axis": null}}},
{"data": {"name": "labels"}, "transform": [{"filter": "datum.role == 'letter'"}], "mark": {"type": "text", "align": "left", "baseline": "alphabetic", "fontSize": 13, "fontWeight": "bold", "color": "#000"},
 "encoding": {"x": {"field": "x", "type": "quantitative", "scale": {"domain": [0, 44]}, "axis": null}, "y": {"field": "y", "type": "quantitative", "scale": {"domain": [0, 46.1], "reverse": true}, "axis": null}, "text": {"field": "text"}}},
{"data": {"name": "labels"}, "transform": [{"filter": "datum.role == 'head'"}], "mark": {"type": "text", "align": "center", "baseline": "alphabetic", "fontSize": 12, "fontWeight": "bold", "color": "#1e1e1e"},
 "encoding": {"x": {"field": "x", "type": "quantitative", "scale": {"domain": [0, 44]}, "axis": null}, "y": {"field": "y", "type": "quantitative", "scale": {"domain": [0, 46.1], "reverse": true}, "axis": null}, "text": {"field": "text"}}},
{"data": {"name": "labels"}, "transform": [{"filter": "datum.role == 'or'"}], "mark": {"type": "text", "align": "center", "baseline": "alphabetic", "fontSize": 17, "fontWeight": "bold", "color": "#111"},
 "encoding": {"x": {"field": "x", "type": "quantitative", "scale": {"domain": [0, 44]}, "axis": null}, "y": {"field": "y", "type": "quantitative", "scale": {"domain": [0, 46.1], "reverse": true}, "axis": null}, "text": {"field": "text"}}},
{"data": {"name": "labels"}, "transform": [{"filter": "datum.role == 'opt'"}], "mark": {"type": "text", "align": "center", "baseline": "alphabetic", "fontSize": 10.5, "fontWeight": "bold"},
 "encoding": {"x": {"field": "x", "type": "quantitative", "scale": {"domain": [0, 44]}, "axis": null}, "y": {"field": "y", "type": "quantitative", "scale": {"domain": [0, 46.1], "reverse": true}, "axis": null}, "text": {"field": "text"},
  "color": {"field": "tone", "type": "nominal", "scale": {"domain": ["plain", "chosen", "better", "worse"], "range": ["#1e1e1e", "#f2e01a", "#3b8c3b", "#8e2626"]}, "legend": null}}},
{"data": {"name": "labels"}, "transform": [{"filter": "datum.role == 'val'"}], "mark": {"type": "text", "align": "center", "baseline": "alphabetic", "fontSize": 10.5, "color": "#2e2e2e"},
 "encoding": {"x": {"field": "x", "type": "quantitative", "scale": {"domain": [0, 44]}, "axis": null}, "y": {"field": "y", "type": "quantitative", "scale": {"domain": [0, 46.1], "reverse": true}, "axis": null}, "text": {"field": "text"}}},
{"data": {"name": "labels"}, "transform": [{"filter": "datum.role == 'plus'"}], "mark": {"type": "text", "align": "center", "baseline": "alphabetic", "fontSize": 12, "fontWeight": "bold", "color": "#1e1e1e"},
 "encoding": {"x": {"field": "x", "type": "quantitative", "scale": {"domain": [0, 44]}, "axis": null}, "y": {"field": "y", "type": "quantitative", "scale": {"domain": [0, 46.1], "reverse": true}, "axis": null}, "text": {"field": "text"}}},
{"data": {"name": "labels"}, "transform": [{"filter": "datum.role == 'time'"}], "mark": {"type": "text", "align": "center", "baseline": "alphabetic", "fontSize": 12, "color": "#333"},
 "encoding": {"x": {"field": "x", "type": "quantitative", "scale": {"domain": [0, 44]}, "axis": null}, "y": {"field": "y", "type": "quantitative", "scale": {"domain": [0, 46.1], "reverse": true}, "axis": null}, "text": {"field": "text"}}},
{"data": {"name": "labels"}, "transform": [{"filter": "datum.role == 'row'"}], "mark": {"type": "text", "align": "left", "baseline": "alphabetic", "fontSize": 16.3, "color": "#111"},
 "encoding": {"x": {"field": "x", "type": "quantitative", "scale": {"domain": [0, 44]}, "axis": null}, "y": {"field": "y", "type": "quantitative", "scale": {"domain": [0, 46.1], "reverse": true}, "axis": null}, "text": {"field": "text"}}},
{"data": {"name": "labels"}, "transform": [{"filter": "datum.role == 'num'"}], "mark": {"type": "text", "align": "center", "baseline": "alphabetic", "fontSize": 12.5, "fontWeight": "bold"},
 "encoding": {"x": {"field": "x", "type": "quantitative", "scale": {"domain": [0, 44]}, "axis": null}, "y": {"field": "y", "type": "quantitative", "scale": {"domain": [0, 46.1], "reverse": true}, "axis": null}, "text": {"field": "text"},
  "color": {"field": "tone", "type": "nominal", "scale": {"domain": ["plain", "chosen", "better", "worse"], "range": ["#1e1e1e", "#f2e01a", "#3b8c3b", "#8e2626"]}, "legend": null}}}
]
},
{
"vconcat": [
{
"width": 226, "height": 229.3,
"layer": [
{"data": {"values": [{"region": "heatmap"}]}, "mark": {"type": "rect"},
 "encoding": {"x": {"datum": -3, "type": "quantitative", "scale": {"domain": [-3.1035, 1]}}, "x2": {"datum": 1},
  "y": {"datum": 0, "type": "quantitative", "scale": {"domain": [-0.4417, 10], "reverse": true}}, "y2": {"datum": 10},
  "color": {"datum": 1, "type": "quantitative", "scale": {"type": "linear", "domain": [-0.41,-0.33,-0.22,-0.13,-0.05,0.03,0.1,0.18,0.26,0.34,0.42,0.5,0.58,0.67,0.76,0.85,0.93,1], "range": ["#1c1a5a","#23236e","#2a3690","#3350a8","#4778c8","#64a2e2","#7ab4dc","#8fbea8","#a0c472","#bccd44","#e0dc28","#f2d81e","#eca420","#d8601e","#c2261c","#a01a1a","#781414","#5a1111"], "interpolate": "rgb"}}}},
{"data": {"name": "contours"}, "mark": {"type": "area", "orient": "vertical"},
 "encoding": {"x": {"field": "lk1", "type": "quantitative", "scale": {"domain": [-3.1035, 1]}},
  "y": {"field": "y0", "type": "quantitative", "stack": null, "scale": {"domain": [-0.4417, 10], "reverse": true}}, "y2": {"field": "y1"},
  "detail": {"field": "g", "type": "nominal"},
  "color": {"field": "lev", "type": "quantitative", "scale": {"type": "linear", "domain": [-0.41,-0.33,-0.22,-0.13,-0.05,0.03,0.1,0.18,0.26,0.34,0.42,0.5,0.58,0.67,0.76,0.85,0.93,1], "range": ["#1c1a5a","#23236e","#2a3690","#3350a8","#4778c8","#64a2e2","#7ab4dc","#8fbea8","#a0c472","#bccd44","#e0dc28","#f2d81e","#eca420","#d8601e","#c2261c","#a01a1a","#781414","#5a1111"], "interpolate": "rgb"},
   "legend": {"orient": "none", "legendX": 236.3, "legendY": 9.7, "direction": "vertical", "title": null, "gradientLength": 219.6, "gradientThickness": 14.7, "values": [-0.4,-0.2,0,0.2,0.4,0.6,0.8,1], "format": "~g", "labelFontSize": 7.5, "labelColor": "#333", "labelOffset": 3, "labelOverlap": false, "gradientStrokeColor": "#333", "gradientStrokeWidth": 0.6}}}},
{"data": {"values": [{"region": "frame"}]}, "mark": {"type": "rect", "filled": false, "stroke": "#333", "strokeWidth": 0.7},
 "encoding": {"x": {"datum": -3, "type": "quantitative", "scale": {"domain": [-3.1035, 1]}}, "x2": {"datum": 1},
  "y": {"datum": 0, "type": "quantitative", "scale": {"domain": [-0.4417, 10], "reverse": true}}, "y2": {"datum": 10}}},
{"data": {"name": "subjects"}, "mark": {"type": "circle", "size": 88, "fill": "#8cba2e", "stroke": "#d4e04a", "strokeWidth": 1, "opacity": 1},
 "encoding": {
  "x": {"field": "lk1", "type": "quantitative", "scale": {"domain": [-3.1035, 1]},
   "axis": {"values": [-2, -1, 0, 1], "tickCount": 10, "labelExpr": "format(pow(10, datum.value), '~g')", "title": "k₁", "titleFontSize": 15, "titleFontWeight": "bold", "titleColor": "#111", "titleX": 132.5, "titleY": 27.5, "titleBaseline": "alphabetic", "labelFontSize": 7.5, "labelColor": "#333", "labelPadding": 5, "labelOverlap": false, "ticks": true, "tickSize": -3, "tickColor": "#222", "tickWidth": 0.8, "domain": false, "grid": false}},
  "y": {"field": "k2i", "type": "quantitative", "scale": {"domain": [-0.4417, 10], "reverse": true},
   "axis": {"values": [1,2,3,4,5,6,7,8,9,10], "tickCount": 20, "labelExpr": "['','0.003','0.006','0.02','0.04','0.1','0.3','0.6','2','4','10'][datum.value]", "offset": -5.7, "title": "k₂", "titleAngle": 0, "titleFontSize": 16, "titleFontWeight": "bold", "titleColor": "#111", "titleX": -34.7, "titleY": 118, "titleAlign": "center", "titleBaseline": "middle", "labelFontSize": 7.5, "labelColor": "#333", "labelPadding": 9.7, "labelOverlap": false, "ticks": true, "tickSize": -3, "tickColor": "#222", "tickWidth": 0.8, "domain": false, "grid": false}}}}
]
},
{
"width": 275, "height": 173,
"data": {"name": "bars"},
"layer": [
{"mark": {"type": "bar", "opacity": 1},
 "encoding": {
  "x": {"field": "cond", "type": "nominal", "sort": ["Self quest", "Other trained", "Self scan", "Other scan"], "scale": {"paddingInner": 0, "paddingOuter": 0},
   "axis": {"title": null, "labelAngle": 0, "labelFontSize": 11.3, "labelFontWeight": "bold", "labelColor": "#111", "labelPadding": 4, "tickBand": "extent", "tickSize": 4, "tickColor": "#8c8c8c", "domainColor": "#8c8c8c"}},
  "xOffset": {"field": "set", "type": "nominal", "sort": ["Condition 1", "Condition 2"], "scale": {"paddingInner": 0, "paddingOuter": 0.76}},
  "y": {"field": "pct", "type": "quantitative", "stack": null, "scale": {"domain": [0, 100]},
   "axis": {"values": [0,10,20,30,40,50,60,70,80,90,100], "tickCount": 20, "title": "% delayed choice", "titleFontSize": 14.5, "titleFontWeight": "bold", "titleColor": "#111", "titlePadding": 5, "labelFontSize": 12.5, "labelColor": "#222", "labelPadding": 3, "labelOverlap": false, "tickSize": 6, "tickColor": "#8c8c8c", "domainColor": "#8c8c8c", "grid": false}},
  "color": {"field": "set", "type": "nominal", "scale": {"domain": ["Condition 1", "Condition 2"], "range": ["#6a6a6a", "#a6a6a6"]}, "legend": null}}},
{"mark": {"type": "rule", "color": "#111", "strokeWidth": 1.3},
 "encoding": {
  "x": {"field": "cond", "type": "nominal", "sort": ["Self quest", "Other trained", "Self scan", "Other scan"], "scale": {"paddingInner": 0, "paddingOuter": 0}},
  "xOffset": {"field": "set", "type": "nominal", "sort": ["Condition 1", "Condition 2"], "scale": {"paddingInner": 0, "paddingOuter": 0.76}},
  "y": {"field": "lo", "type": "quantitative", "scale": {"domain": [0, 100]}},
  "y2": {"field": "hi"}}}
]
}
],
"spacing": 35.7,
"bounds": "flush"
}
],
"config": {
"view": {"stroke": null},
"font": "Liberation Sans",
"axis": {"grid": false, "labelFont": "Liberation Sans", "titleFont": "Liberation Sans"},
"legend": {"labelFont": "Liberation Sans"}
}
}
